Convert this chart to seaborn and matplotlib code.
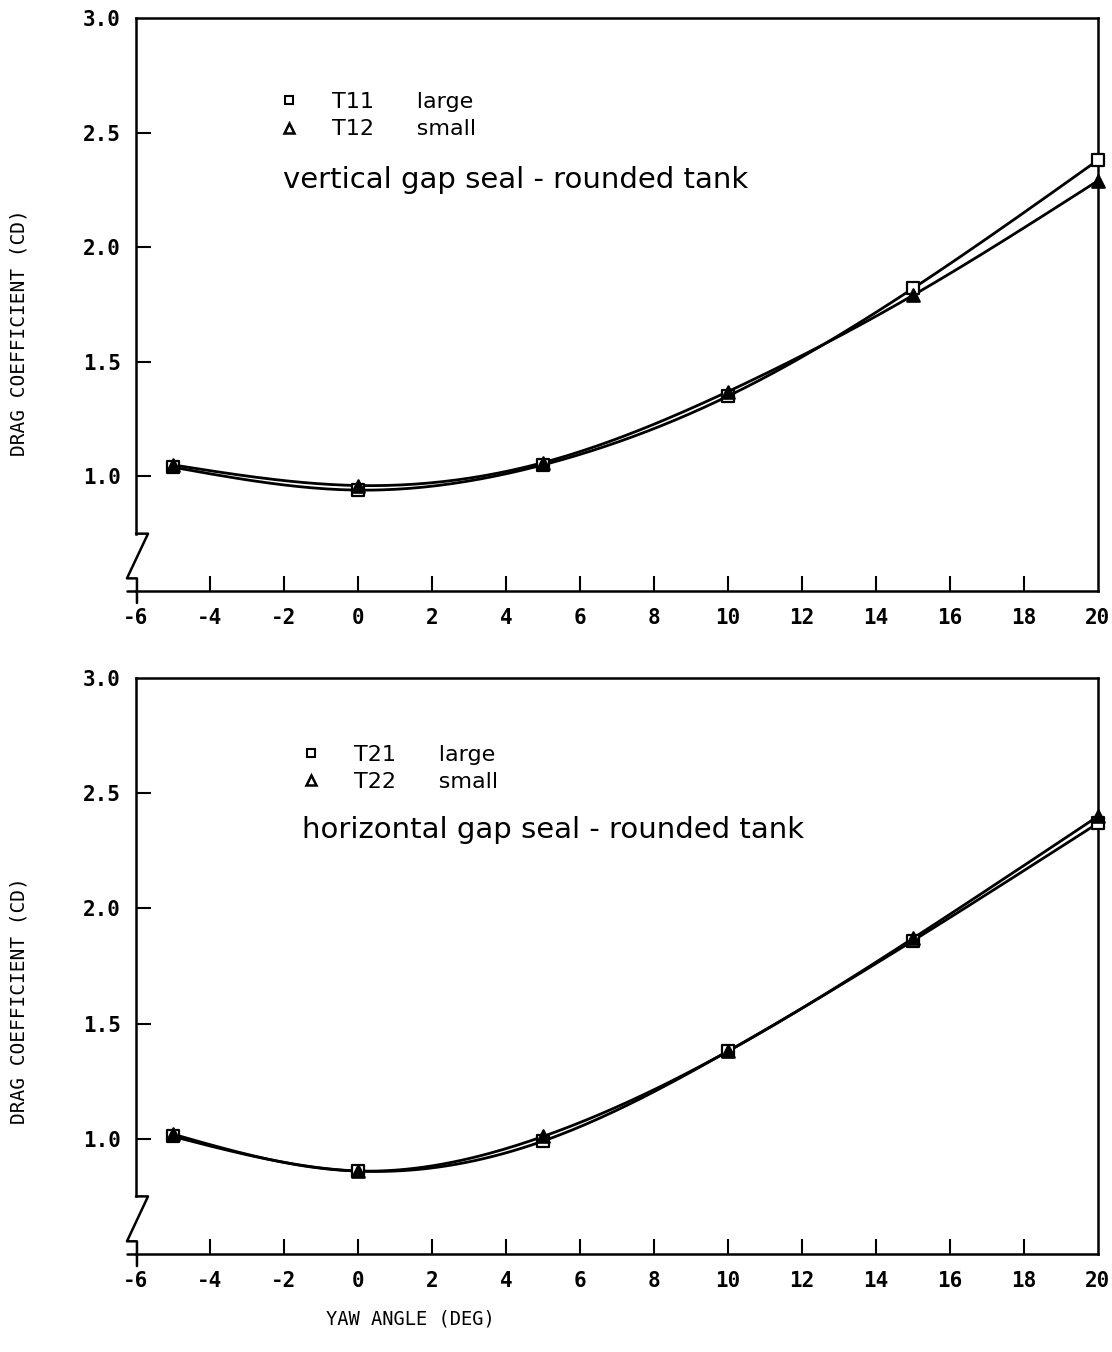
import numpy as np
import pandas as pd
import matplotlib
matplotlib.use("Agg")
import matplotlib.pyplot as plt
from matplotlib.lines import Line2D
import seaborn as sns

# ---- data ----
yaw = [-5, 0, 5, 10, 15, 20]
t11_large = [1.04, 0.94, 1.05, 1.35, 1.82, 2.38]
t12_small = [1.05, 0.96, 1.06, 1.37, 1.79, 2.29]
t21_large = [1.01, 0.86, 0.99, 1.38, 1.86, 2.37]
t22_small = [1.02, 0.86, 1.01, 1.38, 1.87, 2.40]
x_ticks = [-6, -4, -2, 0, 2, 4, 6, 8, 10, 12, 14, 16, 18, 20]
y_ticks = [1.0, 1.5, 2.0, 2.5, 3.0]
panel_titles = ["vertical gap seal - rounded tank", "horizontal gap seal - rounded tank"]
legend_codes = [["T11", "T12"], ["T21", "T22"]]
legend_sizes = ["large", "small"]

sns.set_theme(style="white")
plt.rcParams["font.family"] = ["DejaVu Sans"]
plt.rcParams["text.color"] = "black"
plt.rcParams["axes.labelcolor"] = "black"
plt.rcParams["xtick.color"] = "black"
plt.rcParams["ytick.color"] = "black"


def smooth(xs, ys, n=200):
    """natural cubic spline used only to draw the connecting curve"""
    xs = np.asarray(xs, float)
    ys = np.asarray(ys, float)
    k = len(xs)
    h = np.diff(xs)
    A = np.zeros((k, k))
    b = np.zeros(k)
    A[0, 0] = A[-1, -1] = 1
    for i in range(1, k - 1):
        A[i, i - 1] = h[i - 1]
        A[i, i] = 2 * (h[i - 1] + h[i])
        A[i, i + 1] = h[i]
        b[i] = 6 * ((ys[i + 1] - ys[i]) / h[i] - (ys[i] - ys[i - 1]) / h[i - 1])
    M = np.linalg.solve(A, b)
    xx = np.linspace(xs[0], xs[-1], n)
    idx = np.clip(np.searchsorted(xs, xx) - 1, 0, k - 2)
    x0, x1 = xs[idx], xs[idx + 1]
    hh = x1 - x0
    yy = (M[idx] * (x1 - xx) ** 3 / (6 * hh) + M[idx + 1] * (xx - x0) ** 3 / (6 * hh)
          + (ys[idx] / hh - M[idx] * hh / 6) * (x1 - xx)
          + (ys[idx + 1] / hh - M[idx + 1] * hh / 6) * (xx - x0))
    return xx, yy


fig = plt.figure(figsize=(11.12, 13.52), dpi=100)
ax_top = fig.add_axes([0.1223, 0.5629, 0.8651, 0.4238])
ax_bot = fig.add_axes([0.1223, 0.0725, 0.8651, 0.4260])

panels = [
    (ax_top, t11_large, t12_small, 0),
    (ax_bot, t21_large, t22_small, 1),
]
title_pos = [(0.153, 0.717), (0.1726, 0.736)]
legend_pos = [(0.127, 0.886), (0.150, 0.900)]
ylabel_y = [0.45, 0.44]

mono = "DejaVu Sans Mono"

for ax, large, small, k in panels:
    for vals, mk, fc in [(large, "s", "white"), (small, "^", "black")]:
        xx, yy = smooth(yaw, vals)
        sns.lineplot(x=xx, y=yy, ax=ax, color="black", lw=2.0, sort=False)
        sns.scatterplot(x=yaw, y=vals, ax=ax, marker=mk, s=80, facecolor=fc,
                        edgecolor="black", linewidth=1.6, zorder=5, clip_on=False)

    ax.set_xlim(-6, 20)
    ax.set_ylim(0.5, 3.0)
    ax.set_xticks(x_ticks)
    ax.set_yticks(y_ticks)
    ax.set_xticklabels([str(v) for v in x_ticks], fontfamily=mono, fontsize=15,
                       fontweight="bold")
    ax.set_yticklabels([f"{v:.1f}" for v in y_ticks], fontfamily=mono, fontsize=15,
                       fontweight="bold")
    ax.tick_params(axis="x", direction="in", length=11, width=1.5, pad=12,
                   bottom=True, top=False, colors="black")
    ax.tick_params(axis="y", direction="in", length=11, width=1.5, pad=11,
                   left=True, right=False, colors="black")
    # hide tick marks at the frame edges (they coincide with spines)
    for t in [ax.xaxis.get_major_ticks()[0], ax.xaxis.get_major_ticks()[-1],
              ax.yaxis.get_major_ticks()[-1]]:
        t.tick1line.set_visible(False)
    for s in ax.spines.values():
        s.set_color("black")
        s.set_linewidth(1.8)
    ax.spines["left"].set_bounds(0.75, 3.0)

    # axis break symbol on the left spine
    ax.plot([0.0, 0.0125, -0.0094, 0.001, 0.001], [0.1, 0.1, 0.022, 0.022, -0.021],
            transform=ax.transAxes, color="black", lw=1.8, clip_on=False)
    ax.plot([-0.0094, 0.0], [0.0, 0.0], transform=ax.transAxes, color="black",
            lw=1.8, clip_on=False)

    ax.set_ylabel("DRAG COEFFICIENT (CD)", fontfamily=mono, fontsize=14,
                  color="black")
    ax.yaxis.set_label_coords(-0.112, ylabel_y[k])

    ax.text(title_pos[k][0], title_pos[k][1], panel_titles[k], transform=ax.transAxes,
            fontsize=21, va="center", ha="left", color="black")

    handles = [
        Line2D([], [], ls="", marker="s", ms=6, mfc="white", mec="black", mew=1.5),
        Line2D([], [], ls="", marker="^", ms=7, mfc="white", mec="black", mew=1.8),
    ]
    labels = [f"{legend_codes[k][i]}      {legend_sizes[i]}" for i in range(2)]
    leg = ax.legend(handles, labels, loc="upper left", bbox_to_anchor=legend_pos[k],
                    frameon=False, fontsize=16, handletextpad=0.9, labelspacing=0.32,
                    borderaxespad=0)
    for t in leg.get_texts():
        t.set_color("black")

ax_top.set_xlabel("")
ax_bot.set_xlabel("YAW ANGLE (DEG)", fontfamily=mono, fontsize=13.5, color="black")
ax_bot.xaxis.set_label_coords(0.285, -0.097)

fig.savefig("out.png", dpi=100)
